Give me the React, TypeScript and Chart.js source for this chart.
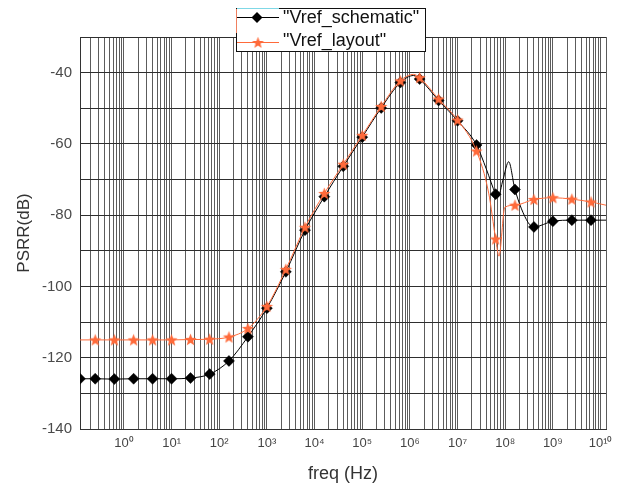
import React, { useEffect, useRef } from 'react';
import { Chart, registerables } from 'chart.js';

Chart.register(...registerables);

// ---------- data ----------
const seriesNames = ['"Vref_schematic"', '"Vref_layout"'];

const schematicFreq = [0.12, 0.25, 0.63, 1.6, 4, 10, 25, 63, 160, 400, 1e3, 2.5e3, 6.3e3, 1.6e4, 4e4, 1e5, 2.5e5, 6.3e5, 1.2e6, 1.6e6, 4e6, 1e7, 2.5e7, 4e7, 6.3e7, 7e7, 9e7, 1.18e8, 1.6e8, 3e8, 4e8, 1e9, 2.5e9, 6.3e9, 1.3e10];
const schematicPSRR = [-125.9, -125.9, -126.0, -125.9, -125.9, -125.9, -125.7, -124.6, -120.9, -114.1, -106.1, -95.9, -84.2, -74.8, -66.3, -58.1, -49.9, -42.8, -40.8, -41.8, -47.8, -53.5, -60.3, -67.0, -74.1, -75.0, -70.0, -65.0, -72.8, -82.0, -83.3, -81.7, -81.4, -81.4, -81.4];
const schematicMarkerFreq = [0.12, 0.25, 0.63, 1.6, 4, 10, 25, 63, 160, 400, 1e3, 2.5e3, 6.3e3, 1.6e4, 4e4, 1e5, 2.5e5, 6.3e5, 1.6e6, 4e6, 1e7, 2.5e7, 6.3e7, 1.6e8, 4e8, 1e9, 2.5e9, 6.3e9];

const layoutFreq = [0.12, 0.25, 0.63, 1.6, 4, 10, 25, 63, 160, 400, 1e3, 2.5e3, 6.3e3, 1.6e4, 4e4, 1e5, 2.5e5, 6.3e5, 1.2e6, 1.6e6, 4e6, 1e7, 2.5e7, 4.5e7, 6.3e7, 7.4e7, 9.8e7, 1.6e8, 4e8, 1e9, 2.5e9, 6.3e9, 1.3e10];
const layoutPSRR = [-115.0, -115.0, -115.0, -115.0, -115.0, -115.0, -114.9, -114.8, -114.2, -111.8, -105.6, -95.2, -83.4, -73.9, -65.7, -57.6, -49.5, -42.3, -40.5, -41.4, -47.4, -53.3, -62.0, -73.8, -86.7, -91.5, -77.8, -77.2, -75.6, -75.1, -75.5, -76.3, -77.2];
const layoutMarkerFreq = [0.25, 0.63, 1.6, 4, 10, 25, 63, 160, 400, 1e3, 2.5e3, 6.3e3, 1.6e4, 4e4, 1e5, 2.5e5, 6.3e5, 1.6e6, 4e6, 1e7, 2.5e7, 6.3e7, 1.6e8, 4e8, 1e9, 2.5e9, 6.3e9];

const xMin = 0.12;
const xMax = 1.3e10;
const yMin = -140;
const yMax = -30;
const yLabelStep = 20;
const yGridStep = 10;
const xLabelExponents = [0, 1, 2, 3, 4, 5, 6, 7, 8, 9, 10];
const xTitle = 'freq (Hz)';
const yTitle = 'PSRR(dB)';

// ---------- styles ----------
const FONT = '"Liberation Sans", Arial, Helvetica, sans-serif';
const BLACK = '#000000';
const ORANGE = '#ff6a3a';

const SUP: Record<string, string> = { '0': '⁰', '1': '¹', '2': '²', '3': '³', '4': '⁴', '5': '⁵', '6': '⁶', '7': '⁷', '8': '⁸', '9': '⁹', '-': '⁻' };
const sup = (n: number) => String(n).split('').map((c) => SUP[c] || c).join('');

function makeStar(color: string, outer: number, inner: number): HTMLCanvasElement {
  const size = Math.ceil(outer * 2 + 2);
  const c = document.createElement('canvas');
  c.width = size;
  c.height = size;
  const g = c.getContext('2d')!;
  const cx = size / 2;
  const cy = size / 2 + 0.5;
  g.beginPath();
  for (let i = 0; i < 10; i++) {
    const r = i % 2 === 0 ? outer : inner;
    const a = -Math.PI / 2 + (i * Math.PI) / 5;
    const px = cx + r * Math.cos(a);
    const py = cy + r * Math.sin(a);
    if (i === 0) g.moveTo(px, py);
    else g.lineTo(px, py);
  }
  g.closePath();
  g.fillStyle = color;
  g.fill();
  return c;
}

function drawDiamond(ctx: CanvasRenderingContext2D, x: number, y: number, r: number, color: string) {
  ctx.beginPath();
  ctx.moveTo(x, y - r);
  ctx.lineTo(x + r, y);
  ctx.lineTo(x, y + r);
  ctx.lineTo(x - r, y);
  ctx.closePath();
  ctx.fillStyle = color;
  ctx.fill();
}

export default function App() {
  const ref = useRef<HTMLCanvasElement | null>(null);

  useEffect(() => {
    const canvas = ref.current;
    if (!canvas) return;
    const star = makeStar(ORANGE, 6.4, 2.7);
    const legendStar = makeStar(ORANGE, 6.2, 2.6);

    const schMarkers = new Set(schematicMarkerFreq);
    const layMarkers = new Set(layoutMarkerFreq);

    const legendPlugin = {
      id: 'boxLegend',
      afterDraw(chart: any) {
        const ctx: CanvasRenderingContext2D = chart.ctx;
        ctx.save();
        ctx.fillStyle = '#ffffff';
        ctx.fillRect(236, 8, 190, 44);
        ctx.strokeStyle = '#111111';
        ctx.lineWidth = 1;
        ctx.strokeRect(236.5, 8.5, 189, 43);
        // selection artefacts
        ctx.strokeStyle = '#7fd8e6';
        ctx.beginPath();
        ctx.moveTo(237, 8.5);
        ctx.lineTo(279, 8.5);
        ctx.stroke();
        ctx.strokeStyle = '#f08060';
        ctx.beginPath();
        ctx.moveTo(236.5, 9);
        ctx.lineTo(236.5, 33);
        ctx.stroke();

        // entry 1
        ctx.strokeStyle = BLACK;
        ctx.lineWidth = 1;
        ctx.beginPath();
        ctx.moveTo(237, 17.5);
        ctx.lineTo(279, 17.5);
        ctx.stroke();
        drawDiamond(ctx, 257, 17.5, 5.5, BLACK);
        // entry 2
        ctx.strokeStyle = ORANGE;
        ctx.beginPath();
        ctx.moveTo(237, 42.5);
        ctx.lineTo(279, 42.5);
        ctx.stroke();
        ctx.drawImage(legendStar, 258 - legendStar.width / 2, 42.5 - legendStar.height / 2);

        ctx.fillStyle = '#111111';
        ctx.font = `18px ${FONT}`;
        ctx.textAlign = 'left';
        ctx.textBaseline = 'middle';
        ctx.fillText(seriesNames[0], 283, 18.5);
        ctx.fillText(seriesNames[1], 283, 41);
        ctx.restore();
      },
    };

    const chart = new Chart(canvas, {
      type: 'line',
      data: {
        datasets: [
          {
            label: seriesNames[0],
            data: schematicFreq.map((f, i) => ({ x: f, y: schematicPSRR[i] })),
            borderColor: BLACK,
            backgroundColor: BLACK,
            borderWidth: 1,
            cubicInterpolationMode: 'monotone',
            pointStyle: 'rectRot',
            pointRadius: (c: any) => (schMarkers.has(schematicFreq[c.dataIndex]) ? 5.5 : 0),
            pointBackgroundColor: BLACK,
            pointBorderColor: BLACK,
            pointBorderWidth: 0.5,
            order: 2,
            clip: { left: 0, right: 0, top: false, bottom: false },
          } as any,
          {
            label: seriesNames[1],
            data: layoutFreq.map((f, i) => ({ x: f, y: layoutPSRR[i] })),
            borderColor: ORANGE,
            backgroundColor: ORANGE,
            borderWidth: 1,
            cubicInterpolationMode: 'monotone',
            pointStyle: star,
            pointRadius: (c: any) => (layMarkers.has(layoutFreq[c.dataIndex]) ? 5 : 0),
            order: 1,
            clip: { left: 0, right: 0, top: false, bottom: false },
          } as any,
        ],
      },
      options: {
        animation: false,
        responsive: false,
        devicePixelRatio: 1,
        layout: { padding: { top: 37, right: 19, left: 0, bottom: 0 } },
        plugins: {
          legend: { display: false },
          tooltip: { enabled: false },
        },
        scales: {
          x: {
            type: 'logarithmic',
            min: xMin,
            max: xMax,
            afterFit: (s: any) => {
              s.height = 59;
            },
            afterBuildTicks: (s: any) => {
              const vals: number[] = [xMin, xMax];
              for (let e = -1; e <= 10; e++) {
                for (let m = 1; m <= 9; m++) {
                  const v = m * Math.pow(10, e);
                  if (v > xMin * 1.001 && v < xMax * 0.999) vals.push(v);
                }
              }
              vals.sort((a, b) => a - b);
              s.ticks = vals.map((v) => ({ value: v }));
            },
            ticks: {
              autoSkip: false,
              maxRotation: 0,
              minRotation: 0,
              padding: 7,
              color: '#444444',
              font: { family: FONT, size: 13 },
              callback: (v: any) => {
                const val = Number(v);
                const e = Math.round(Math.log10(val));
                if (Math.abs(val - Math.pow(10, e)) < 1e-6 * val && xLabelExponents.includes(e)) {
                  return '10' + sup(e);
                }
                return '';
              },
            },
            grid: {
              color: '#5c5c5c',
              lineWidth: 1,
              drawTicks: false,
            },
            border: { display: true, color: '#333333', width: 1 },
            title: {
              display: true,
              text: xTitle,
              color: '#333333',
              font: { family: FONT, size: 18 },
              padding: { top: 0, bottom: 3 },
            },
          } as any,
          y: {
            type: 'linear',
            min: yMin,
            max: yMax,
            afterFit: (s: any) => {
              s.width = 80;
            },
            ticks: {
              stepSize: yGridStep,
              autoSkip: false,
              padding: 8,
              color: '#4a4a4a',
              font: { family: FONT, size: 15 },
              callback: (v: any) => {
                const val = Number(v);
                return val % yLabelStep === 0 && val < yMax ? String(val) : '';
              },
            },
            grid: {
              color: '#2e2e2e',
              lineWidth: 1,
              drawTicks: false,
            },
            border: { display: true, color: '#333333', width: 1 },
            title: {
              display: true,
              text: yTitle,
              color: '#333333',
              font: { family: FONT, size: 17 },
              padding: { top: 14, bottom: 0 },
            },
          } as any,
        },
      },
      plugins: [legendPlugin],
    } as any);

    return () => {
      chart.destroy();
    };
  }, []);

  return (
    <div style={{ position: 'fixed', left: 0, top: 0, width: 625, height: 488, background: '#ffffff' }}>
      <canvas ref={ref} width={625} height={488} style={{ display: 'block', width: 625, height: 488 }} />
    </div>
  );
}
